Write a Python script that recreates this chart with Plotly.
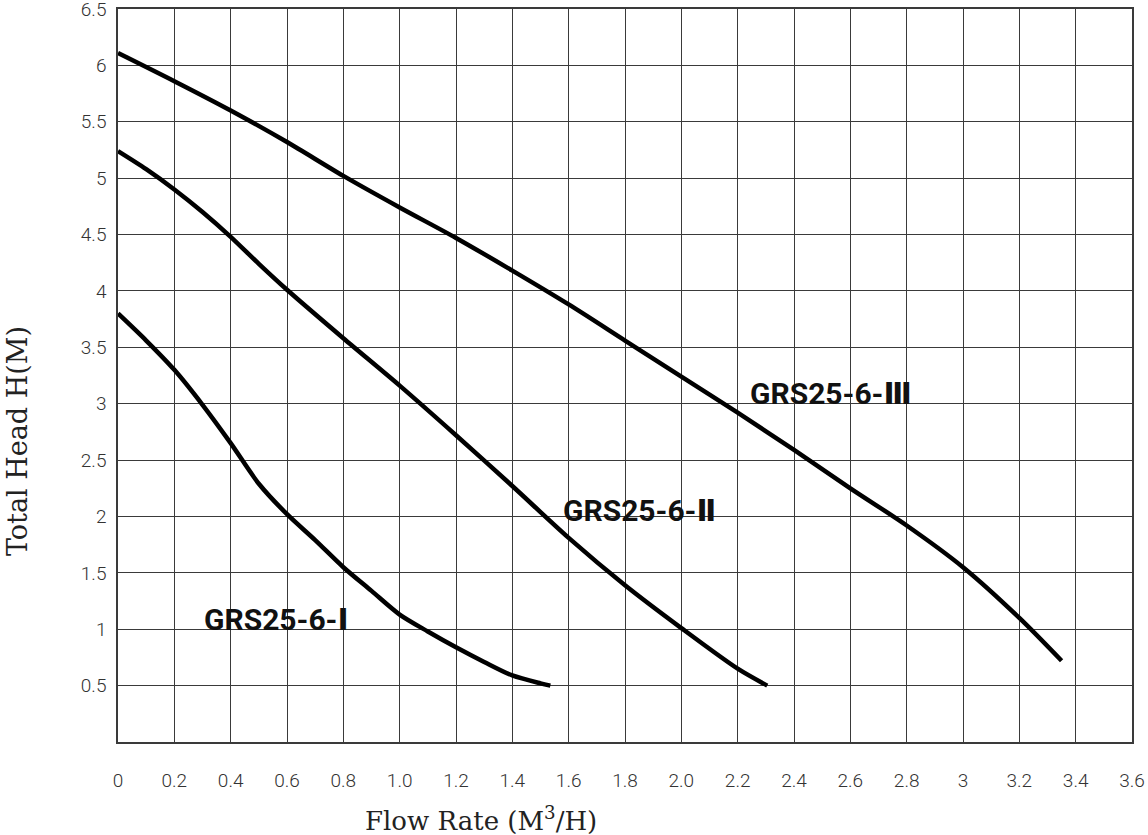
import plotly.graph_objects as go

# pump curves (flow m3/h, head m)
flow_1 = [0, 0.1, 0.2, 0.3, 0.4, 0.5, 0.6, 0.7, 0.8, 0.9, 1.0, 1.1, 1.2, 1.3, 1.4, 1.5, 1.535]
head_1 = [3.80, 3.56, 3.30, 2.99, 2.65, 2.29, 2.02, 1.79, 1.55, 1.34, 1.13, 0.98, 0.84, 0.71, 0.59, 0.52, 0.50]

flow_2 = [0, 0.1, 0.2, 0.3, 0.4, 0.5, 0.6, 0.8, 1.0, 1.2, 1.4, 1.6, 1.8, 2.0, 2.2, 2.305]
head_2 = [5.24, 5.08, 4.90, 4.70, 4.48, 4.24, 4.01, 3.58, 3.16, 2.72, 2.27, 1.81, 1.39, 1.01, 0.65, 0.50]

flow_3 = [0, 0.2, 0.4, 0.6, 0.8, 1.0, 1.2, 1.4, 1.6, 1.8, 2.0, 2.2, 2.4, 2.6, 2.8, 3.0, 3.2, 3.35]
head_3 = [6.11, 5.86, 5.60, 5.32, 5.02, 4.74, 4.47, 4.18, 3.88, 3.56, 3.24, 2.92, 2.59, 2.25, 1.92, 1.55, 1.10, 0.72]

labels = ["GRS25-6-Ⅰ", "GRS25-6-Ⅱ", "GRS25-6-Ⅲ"]
label_x = [0.564, 1.853, 2.531]
label_y = [1.09, 2.056, 3.09]

x_ticks = [round(i * 0.2, 1) for i in range(19)]
x_text = ["0", "0.2", "0.4", "0.6", "0.8", "1.0", "1.2", "1.4", "1.6", "1.8",
          "2.0", "2.2", "2.4", "2.6", "2.8", "3", "3.2", "3.4", "3.6"]
y_ticks = [i * 0.5 for i in range(1, 14)]
y_text = ["0.5", "1", "1.5", "2", "2.5", "3", "3.5", "4", "4.5", "5", "5.5", "6", "6.5"]

tick_font = dict(family="Roboto, DejaVu Sans, sans-serif", size=19, color="#333", weight=300)

fig = go.Figure()
for fx, hy in [(flow_1, head_1), (flow_2, head_2), (flow_3, head_3)]:
    fig.add_trace(go.Scatter(x=fx, y=hy, mode="lines",
                             line=dict(color="black", width=4.5, shape="spline", smoothing=0.8),
                             showlegend=False, hoverinfo="x+y"))

for t, lx, ly in zip(labels, label_x, label_y):
    fig.add_annotation(x=lx, y=ly, text="<b>" + t + "</b>", showarrow=False,
                       font=dict(family="Roboto, DejaVu Sans, sans-serif", size=30, color="#111"))

fig.add_annotation(xref="paper", yref="paper", x=0.358, y=-0.105, yanchor="middle",
                   text="Flow Rate (M<sup>3</sup>/H)", showarrow=False,
                   font=dict(family="DejaVu Serif, serif", size=26, color="#222"))
fig.add_annotation(xref="paper", yref="paper", x=-0.099, y=0.41, xanchor="center",
                   text="Total Head H(M)", textangle=-90, showarrow=False,
                   font=dict(family="DejaVu Serif, serif", size=27, color="#222"))

axis_common = dict(showgrid=True, gridcolor="#3a3a3a", gridwidth=1,
                   showline=True, linecolor="#3a3a3a", linewidth=1.5, mirror=True,
                   zeroline=False, ticks="", tickfont=tick_font, ticklabeloverflow="allow",
                   automargin=False)

fig.update_xaxes(range=[0, 3.6], tickvals=x_ticks, ticktext=x_text,
                 ticklabelstandoff=20, **axis_common)
fig.update_yaxes(range=[0, 6.5], tickvals=y_ticks, ticktext=y_text,
                 ticklabelstandoff=6, **axis_common)

fig.update_layout(width=1148, height=835, margin=dict(l=118, r=16, t=9, b=93),
                  paper_bgcolor="white", plot_bgcolor="white")

# drop the page margin so the 1148x835 figure fills the window exactly
page_js = (
    "document.documentElement.style.overflow='hidden';"
    "document.body.style.margin='0';document.body.style.overflow='hidden';"
)
fig.write_html("out.html", config={"displayModeBar": False}, post_script=page_js)
